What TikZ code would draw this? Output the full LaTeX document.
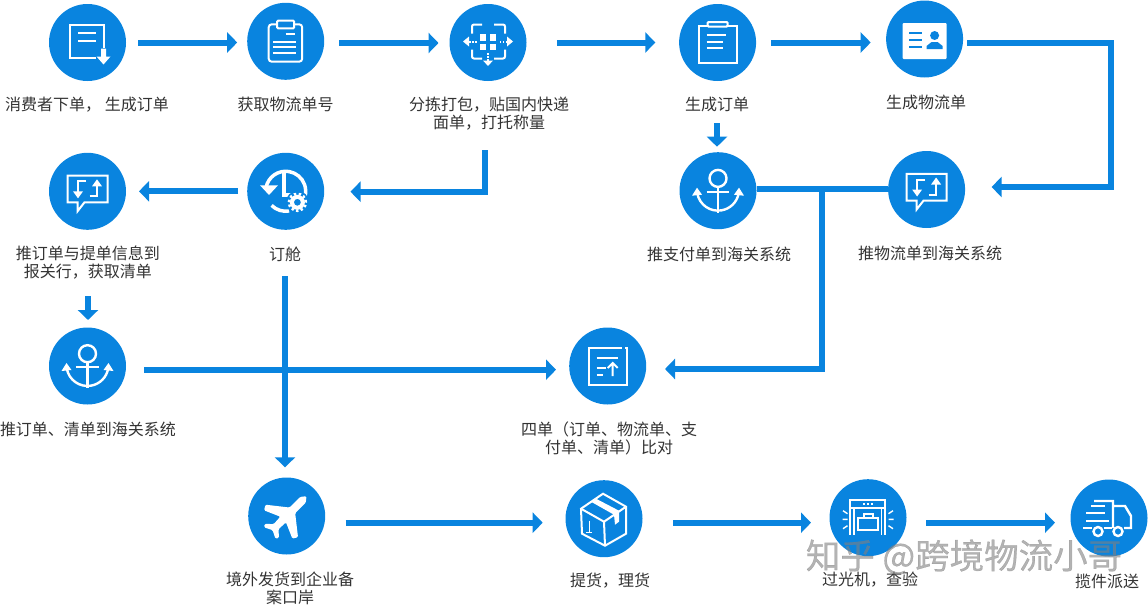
\documentclass[tikz,border=0pt]{standalone}
\usepackage{fontspec}
\setmainfont{Noto Sans CJK SC}
\newfontfamily\stampfont[FakeBold=0.6]{Noto Sans CJK SC}
\usetikzlibrary{arrows.meta}
\definecolor{flowblue}{HTML}{0984DF}
\definecolor{tagtext}{HTML}{333333}
\tikzset{
	hub/.style={circle,fill=flowblue,minimum size=77pt,inner sep=0pt,outer sep=0pt},
	tag/.style={text=tagtext,align=center,inner sep=0pt,font=\fontsize{16}{18}\selectfont},
	trunk/.style={draw=flowblue,line width=6pt},
	flow/.style={trunk,-{Triangle[length=10pt,width=20pt]}},
	icon/.style={draw=white,line width=2pt},
	stamp/.style={text=black!50,opacity=.6,inner sep=0pt,font=\stampfont\fontsize{34.5}{36}\selectfont},
	pics/icondoc/.style={code={
		\draw [icon] (8,15) -- (-18,15) -- (-18,-17.5) -- (16,-17.5) -- (16,5);
		\draw [icon] (-9.5,-10) -- (8.5,-10) (-9.5,-1.5) -- (8.5,-1.5);
		\fill [white] (13.5,6) rectangle (18.5,14) (9,14) -- (23,14) -- (16,22) -- cycle;
	}},
	pics/iconclip/.style={code={
		\draw [icon,rounded corners=3pt] (-8,-17) -- (-17,-17) -- (-17,20.4) -- (16.5,20.4) -- (16.5,-17) -- (8,-17);
		\draw [icon,rounded corners=1pt] (-8.5,-20.6) rectangle (8.5,-13);
		\draw [icon] (0,-7) -- (9.5,-7) (-12.5,.4) -- (10,.4) (-12.5,6) -- (10,6) (-12.5,12) -- (10,12);
	}},
	pics/iconscan/.style={code={
		\foreach \sx in {-4.8,4.8} \foreach \sy in {-5,4.4}
			\fill [white] (\sx-3.2,\sy-3.2) rectangle (\sx+3.2,\sy+3.2);
		\draw [icon,rounded corners=2pt] (-16,-9) -- (-16,-18) -- (-6,-18) (6,-18) -- (17,-18) -- (17,-9)
			(17,7) -- (17,16) -- (6,16) (-6,16) -- (-16,16) -- (-16,7);
		\fill [white] (-25,-1) -- (-19,-6) -- (-19,4) -- cycle (25,-1) -- (19,-6) -- (19,4) -- cycle
			(0,23.5) -- (-5,18) -- (5,18) -- cycle;
		\draw [icon,dash pattern=on 1.5pt off 1.5pt] (-19,-1) -- (-10,-1) (19,-1) -- (10,-1) (0,18) -- (0,10);
	}},
	pics/iconclipb/.style={code={
		\draw [icon] (-10,-17) -- (-19,-17) -- (-19,20) -- (19,20) -- (19,-17) -- (10,-17);
		\draw [icon,rounded corners=1pt] (-10,-20.5) rectangle (10,-16);
		\draw [icon] (-11,-7.5) -- (8.5,-7.5) (-11,-.8) -- (5,-.8) (-11,5.2) -- (5,5.2);
	}},
	pics/iconcard/.style={code={
		\fill [white,rounded corners=1pt] (-22,-16) rectangle (22,20);
		\draw [flowblue,line width=1.7pt] (-15.4,-5.7) -- (-2.5,-5.7) (-15.4,1) -- (-2.5,1) (-15.4,7.7) -- (-2.5,7.7);
		\fill [flowblue] (10,-3.5) circle (4.5pt) (2,10) -- (2,7) -- (7,3) -- (13,3) -- (18,7) -- (18,10) -- cycle;
	}},
	pics/iconanchor/.style={code={
		\draw [icon,line width=2.4pt] (0,-12.3) circle (8.5pt);
		\draw [icon,line width=2.4pt] (0,-3.8) -- (0,22) (-11.5,1) -- (11,1);
		\draw [icon,line width=2.4pt] (-20.7,2.6) arc [start angle=190,end angle=350,radius=21pt];
		\fill [white] (-21,-3) -- (-26,5) -- (-16,4) -- cycle (21,-3) -- (26,5) -- (16,4) -- cycle;
	}},
	pics/iconbubble/.style={code={
		\draw [icon] (-20,-15.6) -- (20,-15.6) -- (20,11) -- (-3,11) -- (-10,20) -- (-10,11) -- (-20,11) -- cycle;
		\draw [icon] (-1.5,-10) -- (-9.5,-10) -- (-9.5,2) (2,5) -- (9.5,5) -- (9.5,-7);
		\fill [white] (-9.5,7) -- (-14.5,0) -- (-4.5,0) -- cycle (9.5,-12) -- (4.5,-5) -- (14.5,-5) -- cycle;
	}},
	pics/iconclock/.style={code={
		\draw [white,line width=3.5pt] (-19.7,-3.5) arc [start angle=170,end angle=-15,radius=20pt];
		\draw [white,line width=3.5pt] (-14.1,14.1) arc [start angle=225,end angle=280,radius=20pt];
		\fill [white] (-25.7,-6) -- (-7.7,-6) -- (-16.7,3.7) -- cycle;
		\draw [white,line width=4pt] (-1.8,-18) -- (-1.8,3.7) -- (7,3.7);
		\fill [flowblue] (11.7,11) circle (11.5pt);
		\draw [white,line width=2.5pt,dash pattern=on 2.4pt off 2.4pt] (11.7,11) circle (8.5pt);
		\fill [white,even odd rule] (11.7,11) circle (7.5pt) (11.7,11) circle (3.5pt);
	}},
	pics/iconexport/.style={code={
		\draw [icon] (14,-18) -- (-19,-18) -- (-19,18.7) -- (19,18.7) -- (19,-18) -- (17,-18);
		\draw [icon] (-11,-8) -- (10.7,-8) (-11,2) -- (-2,2) (-11,9) -- (-5,9);
		\draw [icon] (5,10) -- (5,-3) (0,2) -- (5,-3) -- (10,2);
	}},
	pics/iconplane/.style={code={
		\fill [white,rounded corners=1.2pt,rotate=-45] (0,-28) -- (4,-23) -- (4,-8) -- (23,7) -- (20,12) -- (4,5) -- (3.5,15)
			-- (10,21) -- (8,24) -- (0,20) -- (-8,24) -- (-10,21) -- (-3.5,15) -- (-4,5) -- (-20,12) -- (-23,7) -- (-4,-8) -- (-4,-23) -- cycle;
	}},
	pics/iconbox/.style={code={
		\draw [icon] (-1,-25) -- (22,-12) -- (22,15) -- (1,27) -- (-22,15) -- (-23,-10) -- cycle;
		\draw [icon] (-23,-10) -- (0,3) -- (22,-12) (0,3) -- (1,27);
		\fill [white] (-13,-17) -- (-8,-20) -- (15,-8) -- (15,3) -- (11,6) -- (10,-4) -- cycle;
		\draw [white,line width=.8pt] (-15,2) -- (-15,13) (-18,14) -- (-12,14);
	}},
	pics/iconxray/.style={code={
		\draw [icon] (-17.7,17) -- (-17.7,-18) -- (17,-18) -- (17,17) (-17.7,-9.5) -- (17,-9.5);
		\draw [icon,line width=1.2pt] (-14,-9.5) -- (-14,17) (13.5,-9.5) -- (13.5,17);
		\draw [icon] (-9.7,0) rectangle (9.7,12) (-4.5,0) -- (-4.5,-4) -- (4.5,-4) -- (4.5,0);
		\draw [icon,dash pattern=on 2pt off 2pt] (-5,-14) -- (5,-14);
		\draw [icon,line width=1.4pt] (-25,-7) -- (-20.5,-4) (-25.5,1.7) -- (-20.5,1.7) (-25,11) -- (-20.5,8)
			(25,-7) -- (20.5,-4) (25.5,1.7) -- (20.5,1.7) (25,11) -- (20.5,8);
	}},
	pics/icontruck/.style={code={
		\draw [icon,line width=2.4pt] (-15,-17) -- (4,-17) -- (4,10) (4,-12) -- (16,-12) -- (22,-2) -- (22,10) -- (15,10);
		\draw [icon,line width=2.4pt] (-18,-12) -- (-4,-12) (-23,-5) -- (-4,-5) (-23,3) -- (0,3)
			(-26,10) -- (-17,10) (-5,10) -- (3,10);
		\draw [icon,line width=2.4pt] (-11,13.5) circle (4.5pt) (9,13.5) circle (4.5pt);
	}},
}
\begin{document}
\begin{tikzpicture}[x=1pt,y=-1pt]
	\useasboundingbox (0,0) rectangle (1148,605);
	\node [hub] (buy) at (87.5,42.5) {};
	\node [hub] (waybill) at (285.7,41.3) {};
	\node [hub] (pack) at (488,42.5) {};
	\node [hub] (order) at (717.6,42.5) {};
	\node [hub] (logi) at (924.6,39) {};
	\node [hub] (paypush) at (718,190.7) {};
	\node [hub] (logipush) at (926.6,189.5) {};
	\node [hub] (book) at (285.7,191.3) {};
	\node [hub] (custpush) at (87.5,191.3) {};
	\node [hub] (orderpush) at (87.5,366) {};
	\node [hub] (match) at (607.7,366) {};
	\node [hub] (ship) at (286.7,516) {};
	\node [hub] (pickup) at (604,518.7) {};
	\node [hub] (xray) at (868,517.7) {};
	\node [hub] (truck) at (1109,518) {};
	\pic at (buy) {icondoc};
	\pic at (waybill) {iconclip};
	\pic at (pack) {iconscan};
	\pic at (order) {iconclipb};
	\pic at (logi) {iconcard};
	\pic at (paypush) {iconanchor};
	\pic at (logipush) {iconbubble};
	\pic at (book) {iconclock};
	\pic at (custpush) {iconbubble};
	\pic at (orderpush) {iconanchor};
	\pic at (match) {iconexport};
	\pic at (ship) {iconplane};
	\pic at (pickup) {iconbox};
	\pic at (xray) {iconxray};
	\pic at (truck) {icontruck};

	\node [tag] (buyt) at (87,105) {消费者下单， 生成订单};
	\node [tag] (waybillt) at (285.7,104) {获取物流单号};
	\node [tag] (packt) at (489,114) {分拣打包，贴国内快递\\面单，打托称量};
	\node [tag] (ordert) at (717,104) {生成订单};
	\node [tag] (logit) at (926,102) {生成物流单};
	\node [tag] (payt) at (719,254) {推支付单到海关系统};
	\node [tag] (logipusht) at (930,253) {推物流单到海关系统};
	\node [tag] (bookt) at (285,254.5) {订舱};
	\node [tag] (custt) at (88,263) {推订单与提单信息到\\报关行，获取清单};
	\node [tag] (orderpusht) at (88,429) {推订单、清单到海关系统};
	\node [tag] (matcht) at (609,438) {四单（订单、物流单、支\\付单、清单）比对};
	\node [tag] (shipt) at (290,588) {境外发货到企业备\\案口岸};
	\node [tag] (pickupt) at (610,581) {提货，理货};
	\node [tag] (xrayt) at (870,580) {过光机，查验};
	\node [tag] (truckt) at (1107,581) {揽件派送};

	\coordinate (bendr) at (1110.5,187);
	\coordinate (bendp) at (485.3,191.7);
	\coordinate (tee) at (822,188.7);
	\coordinate (bendm) at (822,369);

	\draw [flow,shorten <=12pt,shorten >=10pt] (buy.east) -- (buy.east -| waybill.west);
	\draw [flow,shorten <=14.8pt,shorten >=11pt] ([yshift=-1.7pt]waybill.east) -- ([yshift=-1.7pt]waybill.east -| pack.west);
	\draw [flow,shorten <=30.3pt,shorten >=23.8pt] (pack.east) -- (pack.east -| order.west);
	\draw [flow,shorten <=15pt,shorten >=15.4pt] (order.east) -- (order.east -| logi.west);
	\draw [flow,shorten <=4.3pt,shorten >=26.5pt] ([yshift=-3.7pt]logi.east) -| (bendr) -- (logipush.east |- bendr);
	\draw [flow,shorten <=19pt,shorten >=5.5pt] (ordert.center) -- (ordert.center |- paypush.north);
	\draw [trunk] ([yshift=2pt]paypush.east) -- ([yshift=2pt]paypush.east -| logipush.west);
	\draw [flow,shorten >=18.8pt] (tee) -- (bendm) -- (match.east |- bendm);
	\draw [flow,shorten <=36pt,shorten >=26.3pt] (bendp |- packt.center) -- (bendp) -- (book.east |- bendp);
	\draw [flow,shorten <=9.2pt,shorten >=13pt] (book.west) -- (book.west -| custpush.east);
	\draw [flow,shorten <=33pt,shorten >=7.5pt] (custt.center) -- (custt.center |- orderpush.north);
	\draw [flow,shorten <=18pt,shorten >=13.2pt] ([yshift=-3.7pt]orderpush.east) -- ([yshift=-3.7pt]orderpush.east -| match.west);
	\draw [flow,shorten <=21.5pt,shorten >=10.2pt] (bookt.center) -- (bookt.center |- ship.north);
	\draw [flow,shorten <=20.5pt,shorten >=22.8pt] ([yshift=-6.7pt]ship.east) -- ([yshift=-6.7pt]ship.east -| pickup.west);
	\draw [flow,shorten <=30.5pt,shorten >=18.5pt] ([yshift=-4pt]pickup.east) -- ([yshift=-4pt]pickup.east -| xray.west);
	\draw [flow,shorten <=19.5pt,shorten >=15.5pt] ([yshift=-5pt]xray.east) -- ([yshift=-5pt]xray.east -| truck.west);

	\node [stamp] (mark) at (964,557) {知乎 @跨境物流小哥};
\end{tikzpicture}
\end{document}
